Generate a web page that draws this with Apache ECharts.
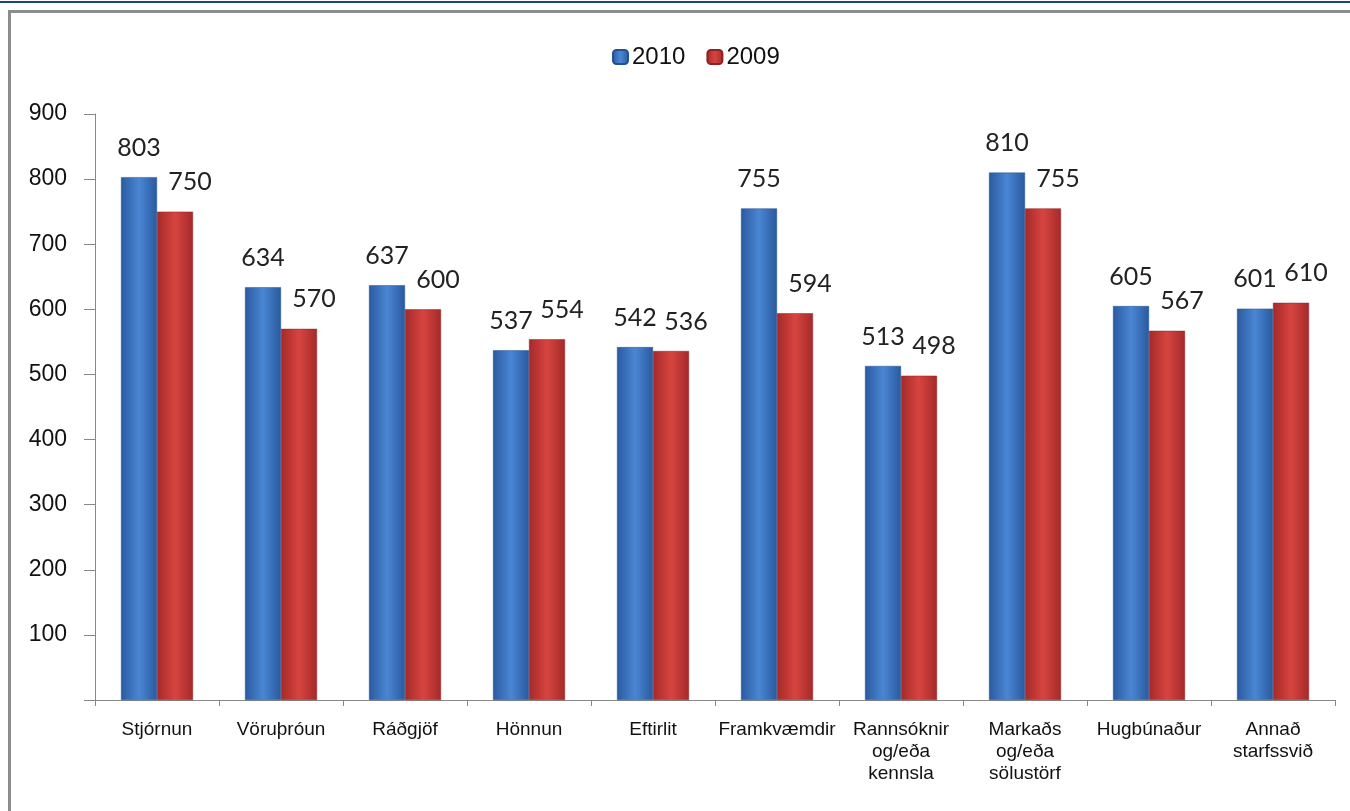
<!DOCTYPE html>
<html><head><meta charset="utf-8">
<script src="https://cdn.jsdelivr.net/npm/echarts@6/dist/echarts.min.js"></script>
<style>
html,body{margin:0;padding:0;background:#fff;}
#topline{position:absolute;left:0;top:1px;width:1350px;height:2px;background:#1d3f8c;}
#frame{position:absolute;left:8px;top:10px;width:1342px;height:801px;border-left:3px solid #8c8c8c;border-top:3px solid #8c8c8c;box-sizing:border-box;}
#chart{position:absolute;left:0;top:0;width:1350px;height:811px;}
</style></head>
<body>
<div id="topline"></div>
<div id="frame"></div>
<div id="chart"></div>
<script>
const categories = ['Stjórnun','Vöruþróun','Ráðgjöf','Hönnun','Eftirlit','Framkvæmdir','Rannsóknir\nog/eða\nkennsla','Markaðs\nog/eða\nsölustörf','Hugbúnaður','Annað\nstarfssvið'];
const values2010 = [803,634,637,537,542,755,513,810,605,601];
const values2009 = [750,570,600,554,536,594,498,755,567,610];
const yTicks = [0,100,200,300,400,500,600,700,800,900];

const chart = echarts.init(document.getElementById('chart'));
function grad(dark, light){
  return new echarts.graphic.LinearGradient(0,0,1,0,[
    {offset:0,color:dark},{offset:0.5,color:light},{offset:1,color:dark}]);
}
const labelFont = {fontFamily:'Lato, "Open Sans", sans-serif', fontSize:25, color:'#222'};
chart.setOption({
  animation:false,
  legend:{
    top:40, left:607, itemWidth:15, itemHeight:14, itemGap:21,
    textStyle:{fontFamily:'"Liberation Sans", Arial, sans-serif', fontSize:24, color:'#111', padding:[0,0,0,-1]},
    data:['2010','2009']
  },
  grid:{left:95, right:15, top:114, bottom:111},
  xAxis:{
    type:'category', data:categories,
    axisLine:{lineStyle:{color:'#888'}},
    axisTick:{show:true, length:6, lineStyle:{color:'#888'}},
    axisLabel:{interval:0, margin:19, lineHeight:22,
      fontFamily:'"Liberation Sans", Arial, sans-serif', fontSize:19, color:'#111'}
  },
  yAxis:{
    type:'value', min:0, max:900, interval:100,
    axisLine:{show:true, lineStyle:{color:'#888'}},
    axisTick:{show:true, length:11, lineStyle:{color:'#888'}},
    splitLine:{show:false},
    axisLabel:{margin:28, fontFamily:'"Liberation Sans", Arial, sans-serif', fontSize:23, color:'#111',
      formatter:v=> v===0 ? '' : String(v)}
  },
  series:[
    {name:'2010', type:'bar', data:values2010, barWidth:36, barGap:'0%',
     itemStyle:{color:grad('#2a5a9f','#4a86d4'), borderColor:'#23508f', borderWidth:0.5},
     label:{show:true, position:'top', distance:17, offset:[0,0], ...labelFont}},
    {name:'2009', type:'bar', data:values2009, barWidth:36,
     itemStyle:{color:grad('#a42a2a','#d7443f'), borderColor:'#8e2222', borderWidth:0.5},
     label:{show:true, position:'top', distance:17, offset:[15,0], ...labelFont}}
  ]
});
</script>
</body></html>
